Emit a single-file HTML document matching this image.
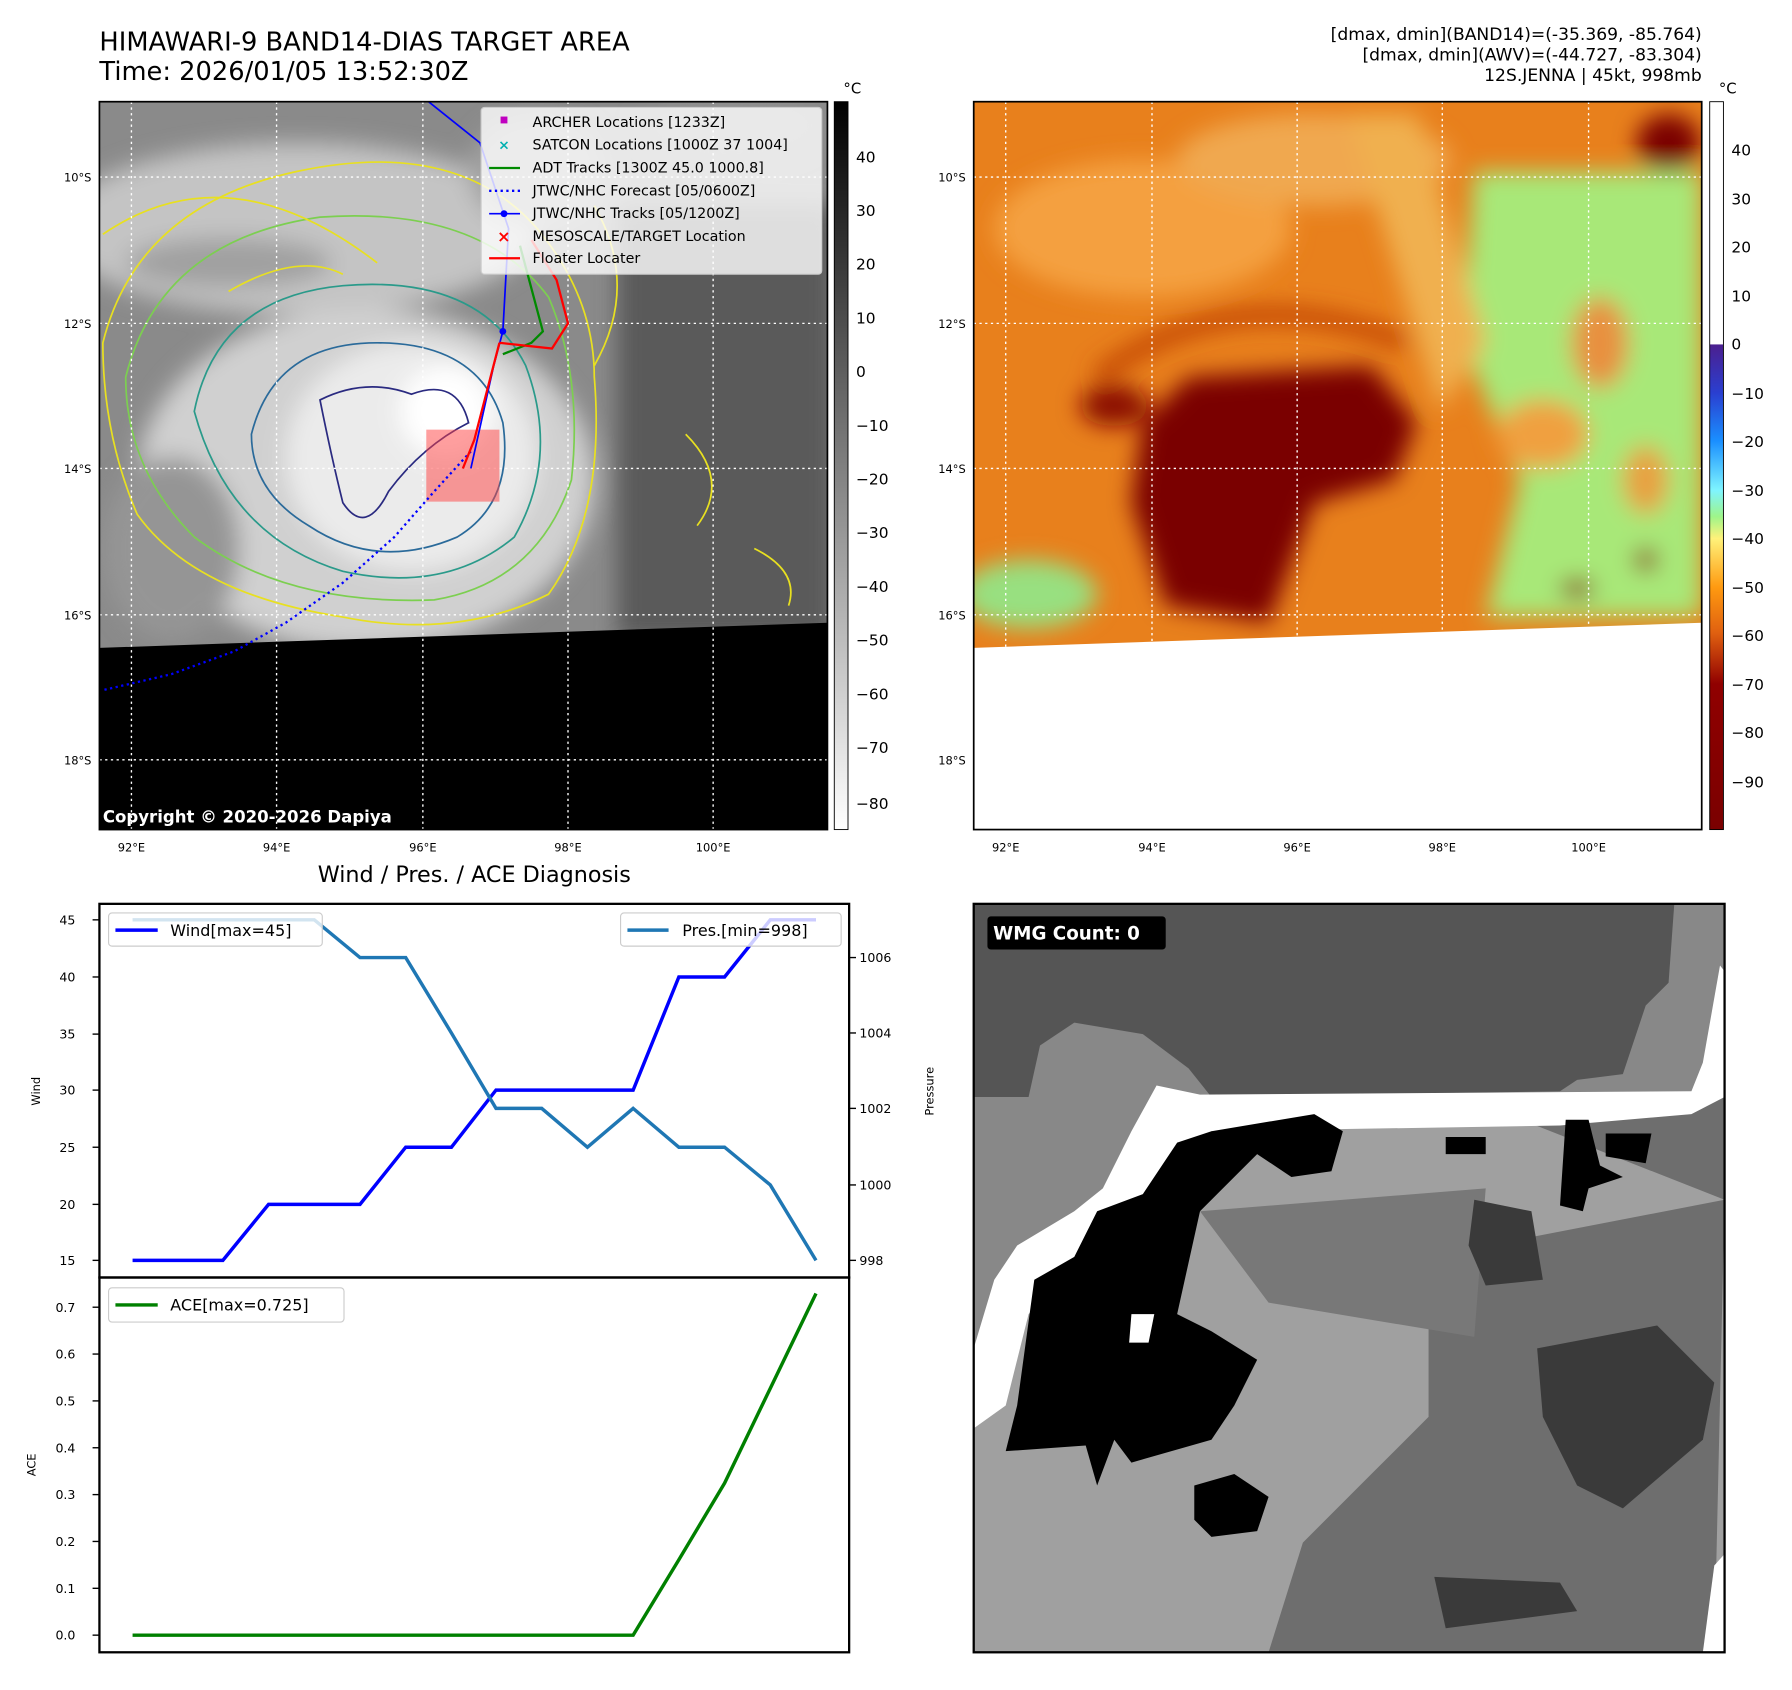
<!DOCTYPE html>
<html><head><meta charset="utf-8"><style>
html,body{margin:0;padding:0;background:#fff;}
svg{display:block;font-family:"DejaVu Sans","Liberation Sans",sans-serif;}
</style></head><body>
<svg width="1792" height="1690" viewBox="0 0 1568 1479" preserveAspectRatio="none" xmlns="http://www.w3.org/2000/svg">
<defs>
<filter id="b8"><feGaussianBlur stdDeviation="10"/></filter>
<clipPath id="cl"><rect x="87" y="89" width="637" height="637"/></clipPath>
<clipPath id="cr"><rect x="852" y="89" width="637" height="637"/></clipPath>
<clipPath id="cb"><rect x="852" y="791" width="657" height="655"/></clipPath>
<linearGradient id="gl" x1="0" y1="0" x2="0" y2="1"><stop offset="0" stop-color="#000"/><stop offset="1" stop-color="#fff"/></linearGradient>
<linearGradient id="gr" x1="0" y1="0" x2="0" y2="1">
<stop offset="0" stop-color="#fff"/><stop offset="0.333" stop-color="#fff"/>
<stop offset="0.334" stop-color="#4b1f8f"/><stop offset="0.40" stop-color="#2a3fd0"/>
<stop offset="0.466" stop-color="#1a8fff"/><stop offset="0.534" stop-color="#7ff5ff"/>
<stop offset="0.57" stop-color="#9ef58a"/><stop offset="0.60" stop-color="#fff27a"/>
<stop offset="0.667" stop-color="#ff9a10"/><stop offset="0.73" stop-color="#e06010"/>
<stop offset="0.80" stop-color="#900000"/><stop offset="1" stop-color="#7a0000"/>
</linearGradient>
</defs>

<text x="87" y="44" font-size="22.5">HIMAWARI-9 BAND14-DIAS TARGET AREA</text>
<text x="87" y="70" font-size="22.5">Time: 2026/01/05 13:52:30Z</text>
<g font-size="15" text-anchor="end">
<text x="1489" y="35">[dmax, dmin](BAND14)=(-35.369, -85.764)</text>
<text x="1489" y="53">[dmax, dmin](AWV)=(-44.727, -83.304)</text>
<text x="1489" y="71">12S.JENNA | 45kt, 998mb</text>
</g>

<g clip-path="url(#cl)">
<rect x="87" y="89" width="637" height="637" fill="#8a8a8a"/>
<g filter="url(#b8)">
<ellipse cx="260" cy="200" rx="210" ry="75" fill="#c4c4c4"/>
<ellipse cx="200" cy="230" rx="90" ry="22" fill="#a0a0a0"/>
<rect x="540" y="180" width="190" height="380" fill="#5a5a5a"/>
<ellipse cx="320" cy="420" rx="200" ry="150" fill="#d0d0d0"/>
<ellipse cx="360" cy="400" rx="110" ry="100" fill="#ebebeb"/>
<ellipse cx="390" cy="360" rx="40" ry="40" fill="#fff"/>
<ellipse cx="150" cy="480" rx="60" ry="80" fill="#959595"/>
<ellipse cx="470" cy="150" rx="60" ry="50" fill="#a0a0a0"/>
<ellipse cx="640" cy="110" rx="80" ry="30" fill="#909090"/>
</g>
<g fill="none" stroke-width="1.5">
<path d="M90 300 Q120 180 260 150 Q400 120 470 200 Q520 260 520 330 Q530 450 480 520 Q400 560 300 540 Q170 520 120 450 Q90 380 90 300Z" stroke="#e8e020"/>
<path d="M110 330 Q140 210 280 190 Q420 180 480 260 Q510 330 500 420 Q470 510 380 525 Q250 530 170 470 Q110 410 110 330Z" stroke="#7ccf50"/>
<path d="M170 360 Q190 260 300 250 Q420 240 460 320 Q490 400 450 470 Q390 520 300 500 Q200 470 170 360Z" stroke="#2a9a8a"/>
<path d="M220 380 Q240 300 330 300 Q420 300 440 370 Q450 440 400 470 Q330 500 270 460 Q220 430 220 380Z" stroke="#2a6a9a"/>
<path d="M280 350 Q320 330 360 345 Q400 330 410 370 Q370 390 340 430 Q320 470 300 440 Q290 400 280 350Z" stroke="#2a2a80"/>
<path d="M90 205 Q200 130 330 230 M200 255 Q260 220 300 240" stroke="#e8e020"/>
<path d="M520 320 Q560 250 520 180 M600 380 Q640 420 610 460 M660 480 Q700 500 690 530" stroke="#e8e020"/>
</g>
<polygon points="87,567 724,545 724,726 87,726" fill="#000"/>
<g stroke="#fff" stroke-dasharray="2,3" stroke-width="1.2">
<line x1="115" y1="89" x2="115" y2="726"/><line x1="242" y1="89" x2="242" y2="726"/><line x1="370" y1="89" x2="370" y2="726"/><line x1="497" y1="89" x2="497" y2="726"/><line x1="624" y1="89" x2="624" y2="726"/>
<line x1="87" y1="155" x2="724" y2="155"/><line x1="87" y1="283" x2="724" y2="283"/><line x1="87" y1="410" x2="724" y2="410"/><line x1="87" y1="538" x2="724" y2="538"/><line x1="87" y1="665" x2="724" y2="665"/>
</g>
<rect x="373" y="376" width="64" height="63" fill="#ff4040" fill-opacity="0.5"/>
<polyline points="375,89 420,125 445,200 440,290 432,320 412,410" fill="none" stroke="#00f" stroke-width="1.5"/>
<polyline points="412,395 380,430 345,470 300,510 250,545 205,570 150,590 90,604" fill="none" stroke="#00f" stroke-width="2" stroke-dasharray="2,3"/>
<polyline points="455,215 475,290 465,300 440,310" fill="none" stroke="#008a00" stroke-width="2"/>
<polyline points="437,300 483,305 497,283 487,245 465,210" fill="none" stroke="#f00" stroke-width="2"/>
<polyline points="437,300 415,385 405,410" fill="none" stroke="#f00" stroke-width="2"/>
<circle cx="440" cy="290" r="3" fill="#00f"/>
<text x="90" y="720" font-size="14.5" font-weight="bold" fill="#fff">Copyright © 2020-2026 Dapiya</text>
</g>
<rect x="87" y="89" width="637" height="637" fill="none" stroke="#000" stroke-width="1.5"/>
<rect x="421" y="94" width="298" height="146" fill="#fff" fill-opacity="0.8" stroke="#ccc" rx="3"/>
<g font-size="12.5">
<rect x="438" y="102" width="6" height="6" fill="#c000c0"/><text x="466" y="111">ARCHER Locations [1233Z]</text>
<text x="436" y="131" fill="#00b0b0" font-size="12" font-weight="bold">×</text><text x="466" y="131">SATCON Locations [1000Z 37 1004]</text>
<line x1="428" y1="147" x2="455" y2="147" stroke="#008a00" stroke-width="2"/><text x="466" y="151">ADT Tracks [1300Z 45.0 1000.8]</text>
<line x1="428" y1="167" x2="455" y2="167" stroke="#00f" stroke-width="2" stroke-dasharray="2,3"/><text x="466" y="171">JTWC/NHC Forecast [05/0600Z]</text>
<line x1="428" y1="187" x2="455" y2="187" stroke="#00f" stroke-width="1.5"/><circle cx="441" cy="187" r="3" fill="#00f"/><text x="466" y="191">JTWC/NHC Tracks [05/1200Z]</text>
<text x="435" y="212" fill="#f00" font-size="14" font-weight="bold">×</text><text x="466" y="211">MESOSCALE/TARGET Location</text>
<line x1="428" y1="226" x2="455" y2="226" stroke="#f00" stroke-width="2"/><text x="466" y="230">Floater Locater</text>
</g>
<rect x="730" y="89" width="12" height="637" fill="url(#gl)" stroke="#000" stroke-width="0.8"/>
<text x="738" y="82" font-size="13">°C</text>
<g font-size="13.5">
<text x="749" y="142">40</text><text x="749" y="189">30</text><text x="749" y="236">20</text><text x="749" y="283">10</text><text x="749" y="330">0</text>
<text x="749" y="377">−10</text><text x="749" y="424">−20</text><text x="749" y="471">−30</text><text x="749" y="518">−40</text><text x="749" y="565">−50</text><text x="749" y="612">−60</text><text x="749" y="659">−70</text><text x="749" y="708">−80</text>
</g>
<g font-size="10" text-anchor="end">
<text x="80" y="159">10°S</text><text x="80" y="287">12°S</text><text x="80" y="414">14°S</text><text x="80" y="542">16°S</text><text x="80" y="669">18°S</text>
<text x="845" y="159">10°S</text><text x="845" y="287">12°S</text><text x="845" y="414">14°S</text><text x="845" y="542">16°S</text><text x="845" y="669">18°S</text>
</g>
<g font-size="10" text-anchor="middle">
<text x="115" y="745">92°E</text><text x="242" y="745">94°E</text><text x="370" y="745">96°E</text><text x="497" y="745">98°E</text><text x="624" y="745">100°E</text>
<text x="880" y="745">92°E</text><text x="1008" y="745">94°E</text><text x="1135" y="745">96°E</text><text x="1262" y="745">98°E</text><text x="1390" y="745">100°E</text>
</g>

<g clip-path="url(#cr)">
<rect x="852" y="89" width="637" height="637" fill="#e8801c"/>
<g filter="url(#b8)">
<ellipse cx="1000" cy="200" rx="130" ry="60" fill="#f4a040"/>
<ellipse cx="1150" cy="140" rx="120" ry="40" fill="#f0a850"/>
<polygon points="1290,150 1489,150 1489,540 1300,540 1330,420 1280,300" fill="#a8e878"/>
<ellipse cx="1400" cy="300" rx="25" ry="40" fill="#e89040"/>
<ellipse cx="1440" cy="420" rx="20" ry="30" fill="#e8a040"/>
<polygon points="1180,100 1240,100 1300,300 1260,360" fill="#f0b050"/>
<ellipse cx="900" cy="520" rx="60" ry="30" fill="#98e080"/>
<ellipse cx="1350" cy="380" rx="40" ry="30" fill="#f0a040"/>
<polygon points="1040,330 1200,320 1240,370 1220,420 1150,440 1110,545 1020,530 990,440 1000,370" fill="#7a0000"/>
<ellipse cx="975" cy="355" rx="30" ry="18" fill="#8a0a00"/>
<ellipse cx="1460" cy="125" rx="28" ry="25" fill="#7a0000"/>
<ellipse cx="1440" cy="490" rx="10" ry="10" fill="#8a0a00"/>
<ellipse cx="1380" cy="515" rx="15" ry="8" fill="#8a0a00"/>
<path d="M960 330 Q1080 240 1230 300" stroke="#c04000" stroke-width="14" fill="none"/>
</g>
<polygon points="852,567 1489,545 1489,726 852,726" fill="#fff"/>
<g stroke="#fff" stroke-dasharray="2,3" stroke-width="1.2">
<line x1="880" y1="89" x2="880" y2="726"/><line x1="1008" y1="89" x2="1008" y2="726"/><line x1="1135" y1="89" x2="1135" y2="726"/><line x1="1262" y1="89" x2="1262" y2="726"/><line x1="1390" y1="89" x2="1390" y2="726"/>
<line x1="852" y1="155" x2="1489" y2="155"/><line x1="852" y1="283" x2="1489" y2="283"/><line x1="852" y1="410" x2="1489" y2="410"/><line x1="852" y1="538" x2="1489" y2="538"/><line x1="852" y1="665" x2="1489" y2="665"/>
</g>
</g>
<rect x="852" y="89" width="637" height="637" fill="none" stroke="#000" stroke-width="1.5"/>
<rect x="1496" y="89" width="12" height="637" fill="url(#gr)" stroke="#000" stroke-width="0.8"/>
<text x="1504" y="82" font-size="13">°C</text>
<g font-size="13.5">
<text x="1515" y="136">40</text><text x="1515" y="179">30</text><text x="1515" y="221">20</text><text x="1515" y="264">10</text><text x="1515" y="306">0</text>
<text x="1515" y="349">−10</text><text x="1515" y="391">−20</text><text x="1515" y="434">−30</text><text x="1515" y="476">−40</text><text x="1515" y="519">−50</text><text x="1515" y="561">−60</text><text x="1515" y="604">−70</text><text x="1515" y="646">−80</text><text x="1515" y="689">−90</text>
</g>

<text x="415" y="772" font-size="19.5" text-anchor="middle">Wind / Pres. / ACE Diagnosis</text>
<polyline points="116,1103 156,1103 195,1103 235,1054 275,1054 315,1054 355,1004 395,1004 434,954 474,954 514,954 554,954 594,855 634,855 674,805 714,805" fill="none" stroke="#0000ff" stroke-width="3"/>
<polyline points="116,805 156,805 195,805 235,805 275,805 315,838 355,838 395,904 434,970 474,970 514,1004 554,970 594,1004 634,1004 674,1037 714,1103" fill="none" stroke="#1f77b4" stroke-width="3"/>
<rect x="87" y="791" width="656" height="327" fill="none" stroke="#000" stroke-width="2"/>
<g font-size="11" text-anchor="end">
<text x="66" y="809">45</text><text x="66" y="859">40</text><text x="66" y="909">35</text><text x="66" y="958">30</text><text x="66" y="1008">25</text><text x="66" y="1058">20</text><text x="66" y="1107">15</text>
</g>
<g stroke="#000" stroke-width="1.2">
<line x1="81" y1="805" x2="87" y2="805"/><line x1="81" y1="855" x2="87" y2="855"/><line x1="81" y1="905" x2="87" y2="905"/><line x1="81" y1="954" x2="87" y2="954"/><line x1="81" y1="1004" x2="87" y2="1004"/><line x1="81" y1="1054" x2="87" y2="1054"/><line x1="81" y1="1103" x2="87" y2="1103"/>
<line x1="743" y1="838" x2="749" y2="838"/><line x1="743" y1="904" x2="749" y2="904"/><line x1="743" y1="970" x2="749" y2="970"/><line x1="743" y1="1037" x2="749" y2="1037"/><line x1="743" y1="1103" x2="749" y2="1103"/>
<line x1="81" y1="1144" x2="87" y2="1144"/><line x1="81" y1="1185" x2="87" y2="1185"/><line x1="81" y1="1226" x2="87" y2="1226"/><line x1="81" y1="1267" x2="87" y2="1267"/><line x1="81" y1="1308" x2="87" y2="1308"/><line x1="81" y1="1349" x2="87" y2="1349"/><line x1="81" y1="1390" x2="87" y2="1390"/><line x1="81" y1="1431" x2="87" y2="1431"/>
</g>
<g font-size="11">
<text x="752" y="842">1006</text><text x="752" y="908">1004</text><text x="752" y="974">1002</text><text x="752" y="1041">1000</text><text x="752" y="1107">998</text>
</g>
<text transform="translate(35,955) rotate(-90)" font-size="10" text-anchor="middle">Wind</text>
<text transform="translate(817,955) rotate(-90)" font-size="10" text-anchor="middle">Pressure</text>
<rect x="95" y="799" width="187" height="29" fill="#fff" fill-opacity="0.8" stroke="#ccc" rx="3"/>
<line x1="101" y1="814" x2="138" y2="814" stroke="#00f" stroke-width="3"/><text x="149" y="819" font-size="14">Wind[max=45]</text>
<rect x="543" y="799" width="193" height="29" fill="#fff" fill-opacity="0.8" stroke="#ccc" rx="3"/>
<line x1="549" y1="814" x2="585" y2="814" stroke="#1f77b4" stroke-width="3"/><text x="597" y="819" font-size="14">Pres.[min=998]</text>

<polyline points="116,1431 554,1431 594,1365 634,1298 674,1215 714,1132" fill="none" stroke="#008000" stroke-width="3"/>
<rect x="87" y="1118" width="656" height="328" fill="none" stroke="#000" stroke-width="2"/>
<g font-size="11" text-anchor="end">
<text x="66" y="1148">0.7</text><text x="66" y="1189">0.6</text><text x="66" y="1230">0.5</text><text x="66" y="1271">0.4</text><text x="66" y="1312">0.3</text><text x="66" y="1353">0.2</text><text x="66" y="1394">0.1</text><text x="66" y="1435">0.0</text>
</g>
<text transform="translate(31,1282) rotate(-90)" font-size="10" text-anchor="middle">ACE</text>
<rect x="95" y="1127" width="206" height="30" fill="#fff" fill-opacity="0.8" stroke="#ccc" rx="3"/>
<line x1="101" y1="1142" x2="138" y2="1142" stroke="#008000" stroke-width="3"/><text x="149" y="1147" font-size="14">ACE[max=0.725]</text>

<g clip-path="url(#cb)">
<rect x="852" y="791" width="657" height="655" fill="#a0a0a0"/>
<polygon points="852,791 1509,791 1509,1050 1250,1100 1250,1240 1200,1290 1140,1350 1110,1446 1500,1446 1509,1050" fill="#6e6e6e"/>
<polygon points="1050,1060 1300,1040 1290,1170 1110,1140" fill="#787878"/>
<polygon points="852,791 1509,791 1509,960 1380,960 1060,975 1040,1000 1000,1010 960,1080 900,1100 880,1200 852,1200" fill="#888"/>
<polygon points="852,791 1465,791 1460,860 1440,880 1420,940 1380,945 1365,955 1060,960 1040,935 1000,905 940,895 910,915 900,960 852,960" fill="#555"/>
<polygon points="1012,950 1050,958 1480,955 1490,930 1505,845 1509,850 1509,960 1480,975 1365,985 1060,990 1030,1010 1010,1060 970,1080 940,1110 900,1150 880,1230 852,1250 852,1180 870,1120 890,1090 940,1060 965,1040 990,990" fill="#fff"/>
<polygon points="1060,990 1150,975 1175,990 1165,1025 1130,1030 1100,1010 1070,1040 1050,1060 1030,1150 1060,1165 1100,1190 1080,1230 1060,1260 990,1280 975,1260 960,1300 950,1265 880,1270 890,1230 905,1120 940,1100 960,1060 1000,1045 1030,1000" fill="#000"/>
<polygon points="1370,980 1390,980 1400,1020 1420,1030 1390,1040 1385,1060 1365,1055" fill="#000"/>
<polygon points="1265,995 1300,995 1300,1010 1265,1010" fill="#000"/>
<polygon points="1405,992 1445,992 1440,1018 1405,1012" fill="#000"/>
<polygon points="1045,1300 1080,1290 1110,1310 1100,1340 1060,1345 1045,1330" fill="#000"/>
<polygon points="990,1150 1010,1150 1005,1175 988,1175" fill="#fff"/>
<polygon points="1345,1180 1450,1160 1500,1210 1490,1260 1420,1320 1380,1300 1350,1240" fill="#3a3a3a"/>
<polygon points="1255,1380 1365,1385 1380,1410 1265,1425" fill="#3a3a3a"/>
<polygon points="1290,1050 1340,1060 1350,1120 1300,1125 1285,1090" fill="#3a3a3a"/>
<polygon points="1500,1370 1509,1360 1509,1446 1490,1446" fill="#fff"/>
</g>
<rect x="852" y="791" width="657" height="655" fill="none" stroke="#000" stroke-width="2"/>
<rect x="864" y="802" width="156" height="29" rx="3" fill="#000"/>
<text x="869" y="822" font-size="16" font-weight="bold" fill="#fff">WMG Count: 0</text>
</svg>
</body></html>
